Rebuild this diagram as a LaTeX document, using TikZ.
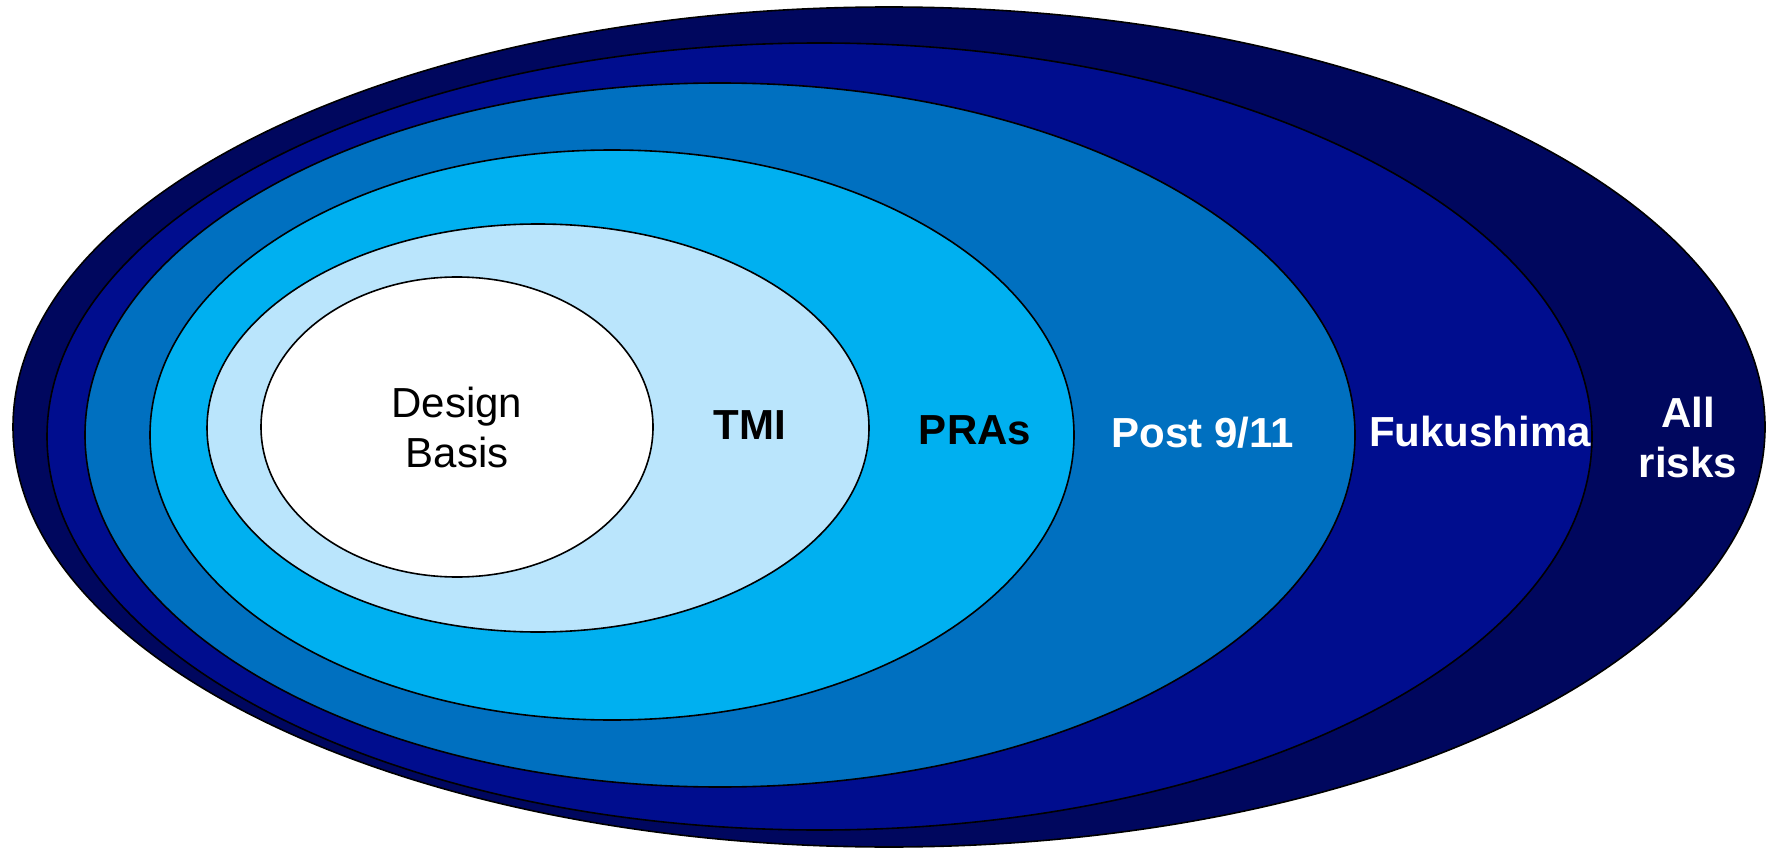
\documentclass[tikz,border=0pt]{standalone}
\usepackage{fontspec}
\setmainfont{Liberation Sans}
\usetikzlibrary{shapes.geometric}
\definecolor{cAll}{RGB}{0,7,94}
\definecolor{cFuku}{RGB}{0,13,142}
\definecolor{cPost}{RGB}{0,112,192}
\definecolor{cPRA}{RGB}{0,176,240}
\definecolor{cTMI}{RGB}{186,229,252}
\tikzset{
  ring/.style={ellipse, draw=black, line width=1.6pt, inner sep=0pt, outer sep=0pt},
  lab/.style={font=\fontsize{42}{50}\selectfont, align=center, inner sep=0pt},
  blab/.style={lab, font=\fontsize{42}{50}\selectfont\bfseries}
}
\begin{document}
\begin{tikzpicture}[x=1pt,y=-1pt]
\useasboundingbox (0,0) rectangle (1774,850);
\node[ring, fill=cAll, minimum width=1752pt, minimum height=840pt] (all) at (889,427) {};
\node[ring, fill=cFuku, minimum width=1545pt, minimum height=787pt] (fuku) at (819.5,436.5) {};
\node[ring, fill=cPost, minimum width=1270pt, minimum height=704pt] (post) at (720,435) {};
\node[ring, fill=cPRA, minimum width=924pt, minimum height=570pt] (pra) at (612,435) {};
\node[ring, fill=cTMI, minimum width=662pt, minimum height=408pt] (tmi) at (538,428) {};
\node[ring, fill=white, minimum width=392pt, minimum height=300pt] (db) at (457,427) {};
\node[lab, text=black] (tdb) at (457,427) {Design\\Basis};
\node[blab, text=black] (ttmi) at (750,425) {TMI};
\node[blab, text=black] (tpra) at (975,430) {PRAs};
\node[blab, text=white] (tpost) at (1203,433) {Post 9/11};
\node[blab, text=white] (tfuku) at (1480,431) {Fukushima};
\node[blab, text=white] (tall) at (1688,437) {All\\risks};
\end{tikzpicture}
\end{document}
